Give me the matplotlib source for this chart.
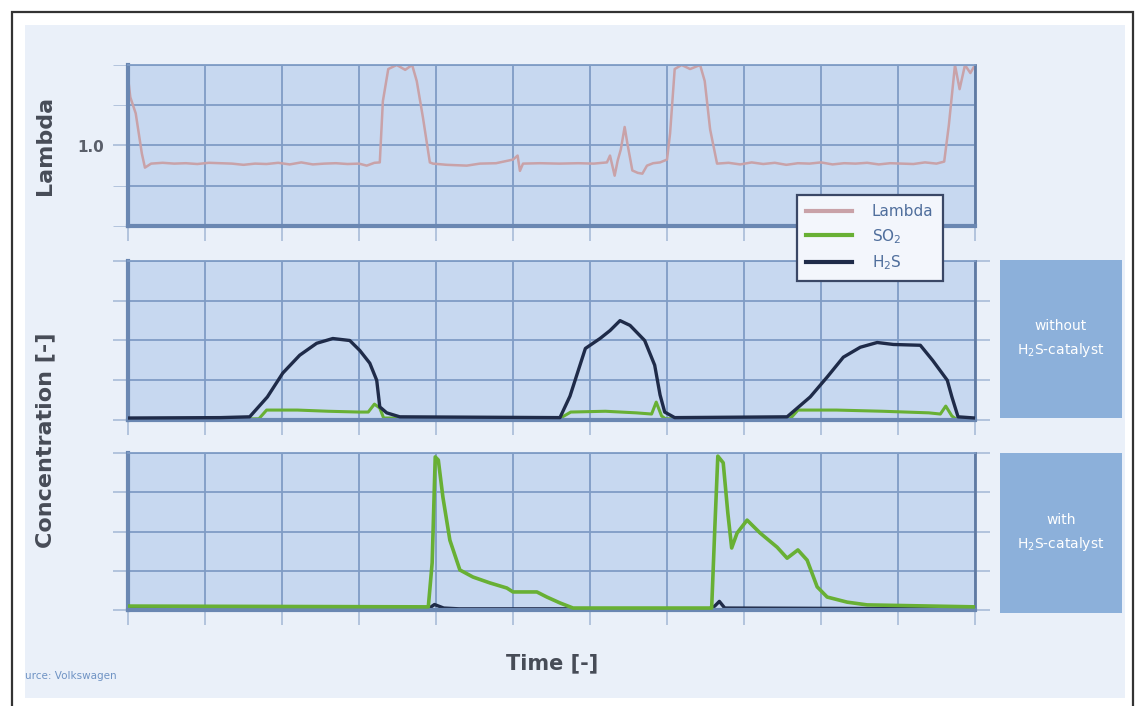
import matplotlib
matplotlib.use("Agg")
import matplotlib.pyplot as plt
from matplotlib.patches import Rectangle

# ---- data (time in grid units 0..11) ----
lambda_t = [0, 0.03, 0.1, 0.18, 0.22, 0.3, 0.45, 0.6, 0.75, 0.9, 1.05, 1.2, 1.35, 1.5, 1.65,
            1.8, 1.95, 2.1, 2.25, 2.4, 2.55, 2.7, 2.85, 3.0, 3.1, 3.2, 3.27, 3.31, 3.38, 3.49,
            3.6, 3.69, 3.75, 3.83, 3.92, 3.96, 4.14, 4.4, 4.57, 4.78, 5.0, 5.06, 5.09, 5.13,
            5.35, 5.6, 5.85, 6.05, 6.22, 6.26, 6.32, 6.36, 6.4, 6.45, 6.49, 6.55, 6.62, 6.68,
            6.74, 6.82, 6.91, 7.0, 7.04, 7.1, 7.19, 7.3, 7.43, 7.49, 7.56, 7.65, 7.8, 7.95,
            8.1, 8.25, 8.4, 8.55, 8.7, 8.85, 9.0, 9.15, 9.3, 9.45, 9.6, 9.75, 9.9, 10.05,
            10.2, 10.35, 10.5, 10.6, 10.66, 10.74, 10.8, 10.87, 10.94, 11.0]
lambda_v = [1.17, 1.12, 1.08, 0.98, 0.945, 0.955, 0.957, 0.955, 0.956, 0.954, 0.957, 0.956,
            0.955, 0.952, 0.955, 0.954, 0.957, 0.953, 0.958, 0.953, 0.955, 0.956, 0.954, 0.955,
            0.950, 0.957, 0.958, 1.11, 1.19, 1.2, 1.188, 1.2, 1.16, 1.07, 0.958, 0.955, 0.952,
            0.95, 0.955, 0.956, 0.965, 0.975, 0.937, 0.955, 0.956, 0.955, 0.956, 0.955, 0.958,
            0.975, 0.925, 0.963, 0.99, 1.046, 1.0, 0.938, 0.932, 0.93, 0.95, 0.956, 0.958,
            0.965, 1.03, 1.19, 1.2, 1.19, 1.2, 1.16, 1.04, 0.955, 0.957, 0.953, 0.958, 0.954,
            0.957, 0.952, 0.956, 0.955, 0.958, 0.953, 0.956, 0.955, 0.957, 0.953, 0.956, 0.955,
            0.954, 0.958, 0.955, 0.96, 1.05, 1.2, 1.14, 1.2, 1.18, 1.2]

h2s_without_t = [0, 1.2, 1.58, 1.81, 2.01, 2.23, 2.45, 2.66, 2.88, 3.01, 3.14, 3.23, 3.27, 3.36,
                 3.53, 5.61, 5.74, 5.94, 6.13, 6.26, 6.39, 6.52, 6.71, 6.84, 6.91, 6.97, 7.1,
                 8.56, 8.86, 9.08, 9.29, 9.51, 9.73, 9.94, 10.29, 10.45, 10.64, 10.7, 10.78, 11.0]
h2s_without_v = [0.05, 0.06, 0.08, 0.58, 1.18, 1.63, 1.93, 2.05, 2.0, 1.75, 1.43, 1.0, 0.33, 0.18,
                 0.08, 0.06, 0.6, 1.8, 2.05, 2.25, 2.5, 2.38, 2.0, 1.38, 0.63, 0.2, 0.06,
                 0.08, 0.58, 1.08, 1.58, 1.83, 1.95, 1.9, 1.88, 1.5, 1.0, 0.58, 0.08, 0.05]

so2_without_t = [0, 1.7, 1.8, 2.2, 2.6, 3.0, 3.12, 3.2, 3.27, 3.32, 5.6, 5.75, 6.2, 6.6, 6.8,
                 6.86, 6.93, 6.98, 8.6, 8.7, 9.2, 9.8, 10.4, 10.55, 10.62, 10.7, 10.75, 11.0]
so2_without_v = [0.03, 0.03, 0.25, 0.25, 0.22, 0.2, 0.2, 0.4, 0.3, 0.05, 0.03, 0.2, 0.22, 0.18,
                 0.15, 0.45, 0.1, 0.03, 0.03, 0.25, 0.25, 0.22, 0.18, 0.15, 0.35, 0.1, 0.03, 0.03]

so2_with_t = [0, 3.9, 3.95, 3.99, 4.03, 4.09, 4.18, 4.31, 4.48, 4.7, 4.92, 5.0, 5.31, 5.44, 5.61,
              5.78, 7.58, 7.62, 7.66, 7.73, 7.79, 7.84, 7.91, 8.04, 8.21, 8.43, 8.56, 8.7,
              8.82, 8.95, 9.08, 9.34, 9.6, 11.0]
so2_with_v = [0.1, 0.08, 1.2, 3.9, 3.82, 2.87, 1.78, 1.02, 0.84, 0.69, 0.56, 0.46, 0.46, 0.33,
              0.18, 0.05, 0.05, 2.04, 3.92, 3.75, 2.47, 1.58, 1.96, 2.29, 1.96, 1.6, 1.32, 1.53,
              1.27, 0.59, 0.33, 0.2, 0.13, 0.08]

h2s_with_t = [0, 3.9, 3.98, 4.1, 4.3, 7.55, 7.62, 7.68, 7.75, 11.0]
h2s_with_v = [0.03, 0.03, 0.14, 0.05, 0.03, 0.03, 0.1, 0.22, 0.05, 0.03]

W, H = 1135, 706
panel_bg = "#c7d8f0"
grid_c = "#7f9cc5"
spine_c = "#6a87b2"
c_lambda = "#c9a2a8"
c_so2 = "#68b034"
c_h2s = "#1f2b49"
box_c = "#8cb0da"
label_c = "#474c57"


def px_box(x0, y0, x1, y1):
    return [x0 / W, 1 - y1 / H, (x1 - x0) / W, (y1 - y0) / H]


fig = plt.figure(figsize=(W / 100, H / 100), dpi=100)
fig.patch.set_facecolor("white")
fig.patches.append(Rectangle((25 / W, 1 - 698 / H), 1100 / W, 673 / H, transform=fig.transFigure,
                             facecolor="#eaf0f9", edgecolor="none", zorder=-10))
fig.patches.append(Rectangle((12 / W, -0.01), 1121 / W, 1 - 12 / H + 0.01, transform=fig.transFigure,
                             facecolor="none", edgecolor="#333333", lw=1.6, zorder=-5))


def style(ax, ymin, ymax, yticks, right_ticks=True):
    ax.set_facecolor(panel_bg)
    ax.set_xlim(0, 11)
    ax.set_ylim(ymin, ymax)
    ax.set_xticks(range(12))
    ax.set_yticks(yticks)
    ax.grid(True, color=grid_c, lw=1.3)
    ax.set_axisbelow(True)
    for s in ["left", "bottom"]:
        ax.spines[s].set_color(spine_c)
        ax.spines[s].set_linewidth(3)
    ax.spines["right"].set_color("#5f7aa3")
    ax.spines["right"].set_linewidth(2)
    ax.spines["top"].set_color(grid_c)
    ax.spines["top"].set_linewidth(1.3)
    ax.tick_params(axis="both", direction="out", length=11, width=1.2, color="#a9bcd8",
                   labelbottom=False, labelleft=False, right=right_ticks)


ax1 = fig.add_axes(px_box(128, 65, 975, 226))
style(ax1, 0.8, 1.2, [0.8, 0.9, 1.0, 1.1, 1.2], right_ticks=False)
ax1.set_yticks([1.0])
ax1.set_yticks([0.8, 0.9, 1.1, 1.2], minor=True)
ax1.grid(True, which="minor", axis="y", color=grid_c, lw=1.3)
ax1.tick_params(axis="y", which="both", direction="out", length=11, color="#a9bcd8")
ax1.tick_params(axis="y", which="major", labelleft=True, labelsize=11, labelcolor="#5a5f6a", pad=6)
ax1.set_yticklabels(["1.0"], fontweight="bold")
lam_line, = ax1.plot(lambda_t, lambda_v, color=c_lambda, lw=1.8, label="Lambda")

ax2 = fig.add_axes(px_box(128, 261, 975, 420))
style(ax2, 0, 4, [0, 1, 2, 3, 4])
so2_line, = ax2.plot(so2_without_t, so2_without_v, color=c_so2, lw=2.2, label="SO$_2$", zorder=2)
h2s_line, = ax2.plot(h2s_without_t, h2s_without_v, color=c_h2s, lw=2.4, label="H$_2$S", zorder=3)

ax3 = fig.add_axes(px_box(128, 453, 975, 610))
style(ax3, 0, 4, [0, 1, 2, 3, 4])
ax3.plot(h2s_with_t, h2s_with_v, color=c_h2s, lw=2.4, zorder=2)
ax3.plot(so2_with_t, so2_with_v, color=c_so2, lw=2.6, zorder=3)

fig.text(45 / W, 1 - 145 / H, "Lambda", rotation=90, ha="center", va="center",
         fontsize=16, fontweight="bold", color=label_c)
fig.text(45 / W, 1 - 440 / H, "Concentration [-]", rotation=90, ha="center", va="center",
         fontsize=16, fontweight="bold", color=label_c)
fig.text(552 / W, 1 - 663 / H, "Time [-]", ha="center", va="center",
         fontsize=15, fontweight="bold", color=label_c)
fig.text(25 / W, 1 - 676 / H, "urce: Volkswagen", ha="left", va="center",
         fontsize=7.5, color="#6f93c4")

leg = fig.legend(handles=[lam_line, so2_line, h2s_line], loc="upper left",
                 bbox_to_anchor=(797 / W, 1 - 195 / H), frameon=True, fancybox=False,
                 fontsize=11, handlelength=3.0, borderpad=0.6, labelspacing=0.5,
                 handletextpad=1.3, borderaxespad=0)
leg.get_frame().set_facecolor("#f3f6fc")
leg.get_frame().set_edgecolor("#3a4766")
leg.get_frame().set_linewidth(1.6)
leg.get_frame().set_alpha(1)
for txt in leg.get_texts():
    txt.set_color("#4f6e9c")
for ln in leg.get_lines():
    ln.set_linewidth(3)

for (y0, y1, label) in [(260, 418, "without\nH$_2$S-catalyst"), (453, 613, "with\nH$_2$S-catalyst")]:
    fig.patches.append(Rectangle((1000 / W, 1 - y1 / H), 122 / W, (y1 - y0) / H,
                                 transform=fig.transFigure, facecolor=box_c, edgecolor="none"))
    fig.text(1061 / W, 1 - (y0 + y1) / 2 / H, label, ha="center", va="center",
             fontsize=10, color="white", linespacing=1.6)

fig.savefig("out.png", dpi=100)
